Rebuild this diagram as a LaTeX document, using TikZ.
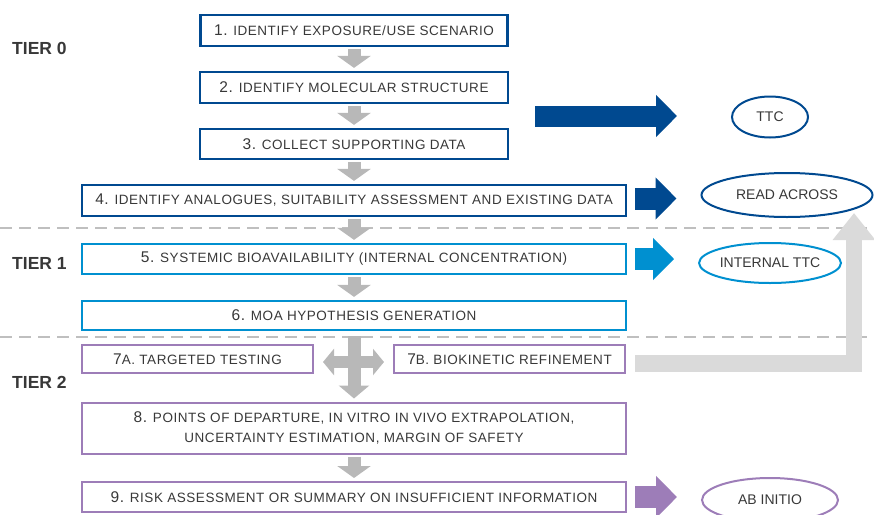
\documentclass[tikz,border=0pt]{standalone}
\usepackage{fontspec}
\setmainfont{Liberation Sans}
\newfontfamily\boxfont[LetterSpace=4]{Liberation Sans}
\usetikzlibrary{arrows.meta,shapes.geometric,calc}
\definecolor{dblue}{HTML}{004990}
\definecolor{lblue}{HTML}{0090D0}
\definecolor{purp}{HTML}{9D7DB8}
\definecolor{agray}{HTML}{B8B8B8}
\definecolor{lgray}{HTML}{DADADA}
\definecolor{dgray}{HTML}{BFBFBF}
\definecolor{txt}{HTML}{383838}
\newcommand\bignum[1]{{\fontsize{15.5}{15.5}\selectfont #1}}
\begin{document}
\begin{tikzpicture}[x=1pt,y=-1pt,
  box/.style={draw, line width=2.2pt, inner sep=0pt, text=txt, align=center,
    font=\boxfont\fontsize{13.5}{20}\selectfont},
  tzero/.style={box, draw=dblue},
  tone/.style={box, draw=lblue},
  ttwo/.style={box, draw=purp, line width=2pt},
  oval/.style={ellipse, draw, line width=2pt, inner sep=0pt, text=txt,
    font=\fontsize{14}{14}\selectfont},
  tierlab/.style={anchor=west, text=txt, inner sep=0pt, font=\bfseries\fontsize{17.5}{17.5}\selectfont},
  garrow/.style={draw=agray, line width=13pt, -{Triangle[width=33pt,length=12pt]},
    shorten <=2pt, shorten >=3pt},
  barrow/.style={line width=22pt, -{Triangle[width=41pt,length=21pt]}},
  divider/.style={draw=dgray, line width=2pt, dash pattern=on 12pt off 7pt}
]
\useasboundingbox (0,0) rectangle (874,514);

% tier dividers
\draw[divider] (0,227.5) -- (874,227.5);
\draw[divider] (0,337) -- (874,337);

% tier labels
\node[tierlab] (tier0) at (12,48) {TIER 0};
\node[tierlab] (tier1) at (12,263) {TIER 1};
\node[tierlab] (tier2) at (12,382) {TIER 2};

% boxes
\node[tzero, minimum width=307pt, minimum height=31pt] (b1) at (354,30.5) {\bignum{1.} IDENTIFY EXPOSURE/USE SCENARIO};
\node[tzero, minimum width=308pt, minimum height=31pt] (b2) at (354,87.5) {\bignum{2.} IDENTIFY MOLECULAR STRUCTURE};
\node[tzero, minimum width=308pt, minimum height=30pt] (b3) at (354,144) {\bignum{3.} COLLECT SUPPORTING DATA};
\node[tzero, minimum width=544pt, minimum height=31pt] (b4) at (354,200.5) {\bignum{4.} IDENTIFY ANALOGUES, SUITABILITY ASSESSMENT AND EXISTING DATA};
\node[tone, minimum width=544pt, minimum height=30pt] (b5) at (354,259) {\bignum{5.} SYSTEMIC BIOAVAILABILITY (INTERNAL CONCENTRATION)};
\node[tone, minimum width=544pt, minimum height=29pt] (b6) at (354,315.5) {\bignum{6.} MOA HYPOTHESIS GENERATION};
\node[ttwo, minimum width=231pt, minimum height=28pt] (b7a) at (197.5,359) {\bignum{7}A. TARGETED TESTING};
\node[ttwo, minimum width=231pt, minimum height=28pt] (b7b) at (509.5,359) {\bignum{7}B. BIOKINETIC REFINEMENT};
\node[ttwo, minimum width=544pt, minimum height=51pt] (b8) at (354,428) {\bignum{8.} POINTS OF DEPARTURE, IN VITRO IN VIVO EXTRAPOLATION,\\UNCERTAINTY ESTIMATION, MARGIN OF SAFETY};
\node[ttwo, minimum width=544pt, minimum height=30pt] (b9) at (354,497) {\bignum{9.} RISK ASSESSMENT OR SUMMARY ON INSUFFICIENT INFORMATION};

% outcome ovals
\node[oval, draw=dblue, minimum width=76pt, minimum height=41pt] (ttc) at (770,117) {TTC};
\node[oval, draw=dblue, minimum width=171pt, minimum height=44pt] (ra) at (787,195) {READ ACROSS};
\node[oval, draw=lblue, minimum width=136pt, minimum height=40pt] (itc) at (770,263) {INTERNAL TTC};
\node[oval, draw=purp, minimum width=136pt, minimum height=44pt] (ab) at (770,500) {AB INITIO};
\coordinate (ratip) at (854,213);

% gray flow arrows
\draw[garrow] (b1.south) -- (b2.north);
\draw[garrow] (b2.south) -- (b3.north);
\draw[garrow] (b3.south) -- (b4.north);
\draw[garrow] (b4.south) -- (b5.north);
\draw[garrow] (b5.south) -- (b6.north);
\draw[garrow, shorten <=5pt, -{Triangle[width=30pt,length=13pt]}] (b6.south) -- (b8.north);
\draw[draw=agray, line width=12pt, {Triangle[width=26pt,length=11pt]}-{Triangle[width=26pt,length=11pt]},
  shorten <=9pt, shorten >=9pt] ([yshift=-3pt]b7a.east) -- ([yshift=-3pt]b7b.west);
\draw[garrow] (b8.south) -- (b9.north);

% outcome arrows
\draw[barrow, draw=dblue, line width=21pt, shorten >=54pt]
  ($(b2.south east)!.5!(b3.north east)+(26,0)$) coordinate (s1) -- (s1 -| ttc.west);
\draw[barrow, draw=dblue, shorten >=24pt] ([xshift=8pt,yshift=2pt]b4.east) coordinate (s2) -- (s2 -| ra.west);
\draw[barrow, draw=lblue, shorten >=24pt] ([xshift=8pt]b5.east) coordinate (s3) -- (s3 -| itc.west);
\draw[barrow, draw=purp, shorten >=24pt] ([xshift=8pt]b9.east) coordinate (s4) -- (s4 -| ab.west);

% loop back arrow
\draw[draw=lgray, line width=16.5pt, line join=miter, -{Triangle[width=41pt,length=27pt]}]
  ([xshift=9pt,yshift=-4.5pt]b7b.east) -| (ratip);
\end{tikzpicture}
\end{document}
